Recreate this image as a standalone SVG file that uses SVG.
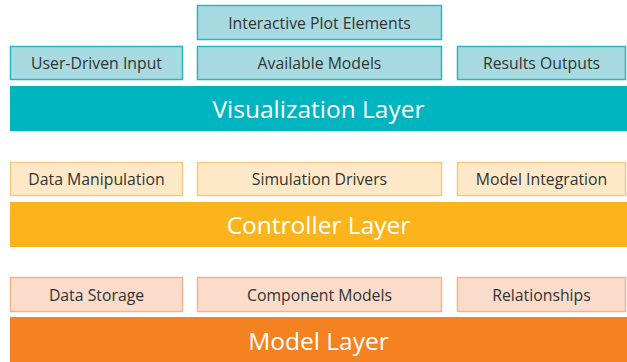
<svg xmlns="http://www.w3.org/2000/svg" width="627" height="362" viewBox="0 0 627 362">
  <style>
    .lbl { font-family: "Open Sans", "Noto Sans", sans-serif; font-size: 15.8px; fill: #333333; text-anchor: middle; dominant-baseline: central; }
    .bar { font-family: "Open Sans", "Noto Sans", sans-serif; font-size: 24.5px; fill: #ffffff; text-anchor: middle; dominant-baseline: central; }
    .vbox { fill: #a7dbe1; stroke: #22b8c4; stroke-width: 1.5; }
    .cbox { fill: #fde9c8; stroke: #fbc97c; stroke-width: 1.5; }
    .mbox { fill: #fbdcca; stroke: #f6b38b; stroke-width: 1.5; }
  </style>
  <rect width="627" height="362" fill="#ffffff"/>

  <!-- Visualization layer -->
  <g id="interactive-plot-elements">
    <rect class="vbox" x="197.5" y="5.5" width="244" height="34"/>
    <text class="lbl" x="319.5" y="22.5">Interactive Plot Elements</text>
  </g>
  <g id="user-driven-input">
    <rect class="vbox" x="10.5" y="46.5" width="172" height="33"/>
    <text class="lbl" x="96.5" y="63">User-Driven Input</text>
  </g>
  <g id="available-models">
    <rect class="vbox" x="197.5" y="46.5" width="244" height="33"/>
    <text class="lbl" x="319.5" y="63">Available Models</text>
  </g>
  <g id="results-outputs">
    <rect class="vbox" x="457.5" y="46.5" width="168" height="33"/>
    <text class="lbl" x="541.5" y="63">Results Outputs</text>
  </g>
  <g id="visualization-layer">
    <rect x="10" y="86" width="617" height="45" fill="#00b5c0"/>
    <text class="bar" x="318.5" y="108.5">Visualization Layer</text>
  </g>

  <!-- Controller layer -->
  <g id="data-manipulation">
    <rect class="cbox" x="10.5" y="162.5" width="172" height="33"/>
    <text class="lbl" x="96.5" y="179">Data Manipulation</text>
  </g>
  <g id="simulation-drivers">
    <rect class="cbox" x="197.5" y="162.5" width="244" height="33"/>
    <text class="lbl" x="319.5" y="179">Simulation Drivers</text>
  </g>
  <g id="model-integration">
    <rect class="cbox" x="457.5" y="162.5" width="168" height="33"/>
    <text class="lbl" x="541.5" y="179">Model Integration</text>
  </g>
  <g id="controller-layer">
    <rect x="10" y="202" width="617" height="45" fill="#fbb41c"/>
    <text class="bar" x="318.5" y="224.5">Controller Layer</text>
  </g>

  <!-- Model layer -->
  <g id="data-storage">
    <rect class="mbox" x="10.5" y="277.5" width="172" height="34"/>
    <text class="lbl" x="96.5" y="294.5">Data Storage</text>
  </g>
  <g id="component-models">
    <rect class="mbox" x="197.5" y="277.5" width="244" height="34"/>
    <text class="lbl" x="319.5" y="294.5">Component Models</text>
  </g>
  <g id="relationships">
    <rect class="mbox" x="457.5" y="277.5" width="168" height="34"/>
    <text class="lbl" x="541.5" y="294.5">Relationships</text>
  </g>
  <g id="model-layer">
    <rect x="10" y="317" width="617" height="45" fill="#f48220"/>
    <text class="bar" x="318.5" y="340">Model Layer</text>
  </g>

  <g id="connectors"/>
</svg>
